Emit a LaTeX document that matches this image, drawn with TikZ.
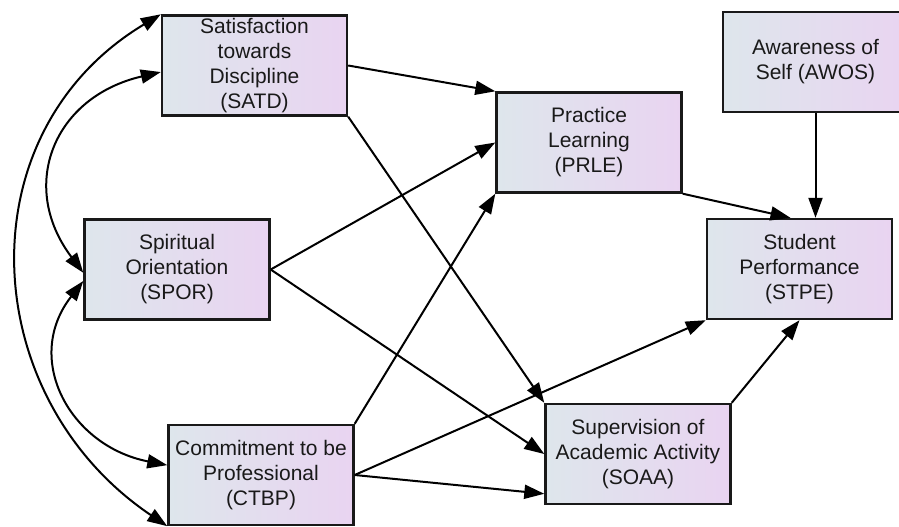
\documentclass[tikz,border=0pt]{standalone}
\usepackage{fontspec}
\setmainfont{Liberation Sans}
\usetikzlibrary{arrows.meta}
\definecolor{boxleft}{RGB}{222,230,236}
\definecolor{boxright}{RGB}{233,212,241}
\definecolor{ink}{RGB}{25,25,25}

\begin{document}
\begin{tikzpicture}[x=1pt,y=1pt,
    var/.style={draw=ink,line width=2.4pt,left color=boxleft,right color=boxright,
        minimum width=185pt,minimum height=100pt,inner sep=1pt,align=center,
        text=ink,font=\fontsize{21}{25}\selectfont},
    effect/.style={line width=2pt,-{Triangle[length=20pt,width=14pt]}},
    covar/.style={line width=2pt,{Triangle[length=20pt,width=14pt]}-{Triangle[length=20pt,width=14pt]}}]
    \useasboundingbox (0,0) rectangle (899,-527);
    \clip (0,0) rectangle (899,-527);
    % variables
    \node[var] (SATD) at (254.5,-65.5) {Satisfaction\\towards\\Discipline\\(SATD)};
    \node[var] (SPOR) at (177,-269.5) {Spiritual\\Orientation\\(SPOR)};
    \node[var] (CTBP) at (261,-475) {Commitment to be\\Professional\\(CTBP)};
    \node[var] (PRLE) at (589,-142.5) {Practice\\Learning\\(PRLE)};
    \node[var] (AWOS) at (815.5,-62) {Awareness of\\Self (AWOS)};
    \node[var] (STPE) at (799.5,-269) {Student\\Performance\\(STPE)};
    \node[var] (SOAA) at (638,-454) {Supervision of\\Academic Activity\\(SOAA)};
    % paths
    \draw[effect] (SATD.east) -- (PRLE.north west);
    \draw[effect] (SATD.south east) -- (SOAA.north west);
    \draw[effect] (SPOR.east) -- (PRLE.west);
    \draw[effect] (SPOR.east) -- (SOAA.west);
    \draw[effect] (CTBP.north east) -- (PRLE.south west);
    \draw[effect] (CTBP.east) -- (STPE.south west);
    \draw[effect] (CTBP.east) -- (SOAA.203);
    \draw[effect] (PRLE.south east) -- (STPE.100);
    \draw[effect] (AWOS.south) -- (AWOS.south |- STPE.north);
    \draw[effect] (SOAA.north east) -- (STPE.south);
    % covariances
    \draw[covar] (SATD.north west) to[out=211,in=146,looseness=1.15] (CTBP.south west);
    \draw[covar] (SATD.184) to[out=193,in=127,looseness=1.3] (SPOR.182);
    \draw[covar] (SPOR.187) to[out=232,in=169,looseness=1.25] (CTBP.174);
\end{tikzpicture}
\end{document}
